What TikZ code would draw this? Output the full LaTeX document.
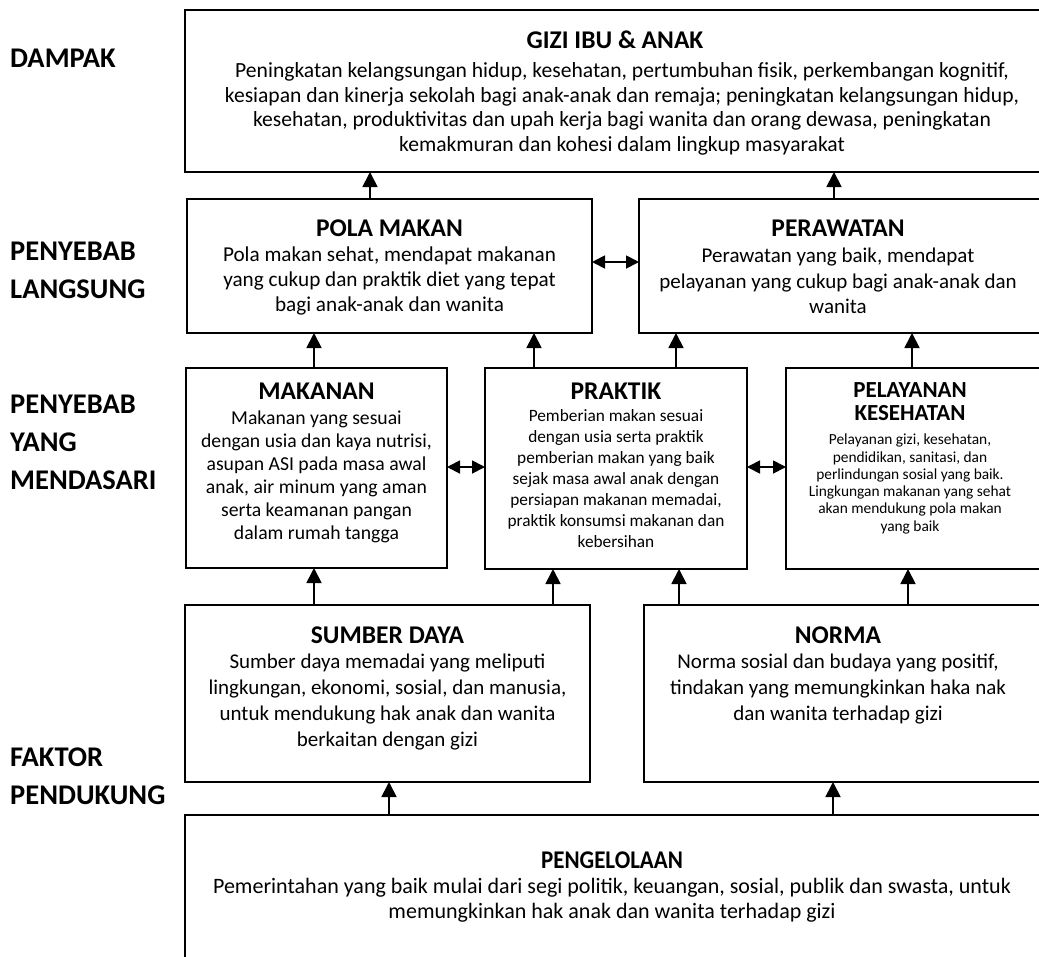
\documentclass[tikz,border=0pt]{standalone}
\usepackage{fontspec}
\setmainfont{Carlito}
\newfontfamily\narrowfont[FakeStretch=0.9]{Carlito}
\usetikzlibrary{arrows.meta}
\begin{document}
\begin{tikzpicture}[x=1pt,y=-1pt,
 box/.style={draw, line width=1.8pt, inner sep=0pt, outer sep=0pt, anchor=north west},
 ttl/.style={font=\fontsize{25.5}{30}\selectfont\bfseries, align=center, inner sep=0pt},
 txt/.style={align=center, inner sep=0pt},
 lab/.style={font=\fontsize{28.5}{38}\selectfont\bfseries, align=left, anchor=west, inner sep=0pt},
 arr/.style={line width=1.8pt, -{Triangle[width=15pt,length=15pt]}},
 dbl/.style={line width=1.8pt, {Triangle[width=13pt,length=13pt]}-{Triangle[width=13pt,length=13pt]}}]
\useasboundingbox (0,0) rectangle (1039,956);
\clip (0,0) rectangle (1039,956);

% boxes
\node[box, minimum width=900pt, minimum height=162pt] (gizi) at (185,10) {};
\node[box, minimum width=405pt, minimum height=134pt] (pola) at (187,199) {};
\node[box, minimum width=450pt, minimum height=134pt] (peraw) at (639,199) {};
\node[box, minimum width=261pt, minimum height=200pt] (makanan) at (186,368) {};
\node[box, minimum width=262pt, minimum height=201pt] (praktik) at (485,368) {};
\node[box, minimum width=300pt, minimum height=201pt] (pelay) at (786,368) {};
\node[box, minimum width=405pt, minimum height=177pt] (sumber) at (185,605) {};
\node[box, minimum width=450pt, minimum height=177pt] (norma) at (644,605) {};
\node[box, minimum width=900pt, minimum height=200pt] (peng) at (185,815) {};

% left labels
\node[lab] (l1) at (10,58) {DAMPAK};
\node[lab] (l2) at (10,270) {PENYEBAB\\LANGSUNG};
\node[lab] (l3) at (10,442) {PENYEBAB\\YANG\\MENDASARI};
\node[lab] (l4) at (10,776) {FAKTOR\\PENDUKUNG};

% texts
\node[ttl] (tgizi) at (615,40) {GIZI IBU \& ANAK};
\node[txt, font=\fontsize{21.6}{24.7}\selectfont] (bgizi) at (622,109) {Peningkatan kelangsungan hidup, kesehatan, pertumbuhan fisik, perkembangan kognitif,\\kesiapan dan kinerja sekolah bagi anak-anak dan remaja; peningkatan kelangsungan hidup,\\kesehatan, produktivitas dan upah kerja bagi wanita dan orang dewasa, peningkatan\\kemakmuran dan kohesi dalam lingkup masyarakat};

\node[ttl] (tpola) at (389.5,228) {POLA MAKAN};
\node[txt, font=\fontsize{21.2}{25.3}\selectfont] (bpola) at (389.5,281) {Pola makan sehat, mendapat makanan\\yang cukup dan praktik diet yang tepat\\bagi anak-anak dan wanita};

\node[ttl] (tperaw) at (838,228) {PERAWATAN};
\node[txt, font=\fontsize{21}{25.3}\selectfont] (bperaw) at (838,281) {Perawatan yang baik, mendapat\\pelayanan yang cukup bagi anak-anak dan\\wanita};

\node[ttl] (tmakanan) at (316.5,391) {MAKANAN};
\node[txt, font=\fontsize{19.7}{23}\selectfont] (bmakanan) at (316.5,477) {Makanan yang sesuai\\dengan usia dan kaya nutrisi,\\asupan ASI pada masa awal\\anak, air minum yang aman\\serta keamanan pangan\\dalam rumah tangga};

\node[ttl] (tpraktik) at (616,391) {PRAKTIK};
\node[txt, font=\fontsize{17.3}{21}\selectfont] (bpraktik) at (616,479) {Pemberian makan sesuai\\dengan usia serta praktik\\pemberian makan yang baik\\sejak masa awal anak dengan\\persiapan makanan memadai,\\praktik konsumsi makanan dan\\kebersihan};

\node[ttl, font=\fontsize{23}{23.5}\selectfont\bfseries] (tpelay) at (910,401.5) {PELAYANAN\\KESEHATAN};
\node[txt, font=\fontsize{15.4}{17.3}\selectfont] (bpelay) at (910,484) {Pelayanan gizi, kesehatan,\\pendidikan, sanitasi, dan\\perlindungan sosial yang baik.\\Lingkungan makanan yang sehat\\akan mendukung pola makan\\yang baik};

\node[ttl] (tsumber) at (387.5,635) {SUMBER DAYA};
\node[txt, font=\fontsize{21}{26}\selectfont] (bsumber) at (387.5,702) {Sumber daya memadai yang meliputi\\lingkungan, ekonomi, sosial, dan manusia,\\untuk mendukung hak anak dan wanita\\berkaitan dengan gizi};

\node[ttl] (tnorma) at (838,635) {NORMA};
\node[txt, font=\fontsize{21}{26}\selectfont] (bnorma) at (838,689) {Norma sosial dan budaya yang positif,\\tindakan yang memungkinkan haka nak\\dan wanita terhadap gizi};

\node[ttl, font=\fontsize{25.5}{30}\narrowfont\bfseries] (tpeng) at (612,860) {PENGELOLAAN};
\node[txt, font=\fontsize{22}{24.5}\selectfont] (bpeng) at (612,900) {Pemerintahan yang baik mulai dari segi politik, keuangan, sosial, publik dan swasta, untuk\\memungkinkan hak anak dan wanita terhadap gizi};

% connector x positions
\coordinate (xa) at (370,0);
\coordinate (xb) at (834,0);
\coordinate (xc) at (314,0);
\coordinate (xd) at (534,0);
\coordinate (xe) at (676,0);
\coordinate (xf) at (912,0);
\coordinate (xg) at (553,0);
\coordinate (xh) at (679,0);
\coordinate (xi) at (908,0);
\coordinate (xj) at (389,0);
\coordinate (xk) at (833,0);
\coordinate (ya) at (0,262);
\coordinate (yb) at (0,467);

\draw[arr] (pola.north -| xa) -- (gizi.south -| xa);
\draw[arr] (peraw.north -| xb) -- (gizi.south -| xb);
\draw[dbl] (pola.east |- ya) -- (peraw.west |- ya);
\draw[arr] (makanan.north -| xc) -- (pola.south -| xc);
\draw[arr] (praktik.north -| xd) -- (pola.south -| xd);
\draw[arr] (praktik.north -| xe) -- (peraw.south -| xe);
\draw[arr] (pelay.north -| xf) -- (peraw.south -| xf);
\draw[dbl] (makanan.east |- yb) -- (praktik.west |- yb);
\draw[dbl] (praktik.east |- yb) -- (pelay.west |- yb);
\draw[arr] (sumber.north -| xc) -- (makanan.south -| xc);
\draw[arr] (sumber.north -| xg) -- (praktik.south -| xg);
\draw[arr] (norma.north -| xh) -- (praktik.south -| xh);
\draw[arr] (norma.north -| xi) -- (pelay.south -| xi);
\draw[arr] (peng.north -| xj) -- (sumber.south -| xj);
\draw[arr] (peng.north -| xk) -- (norma.south -| xk);
\end{tikzpicture}
\end{document}
